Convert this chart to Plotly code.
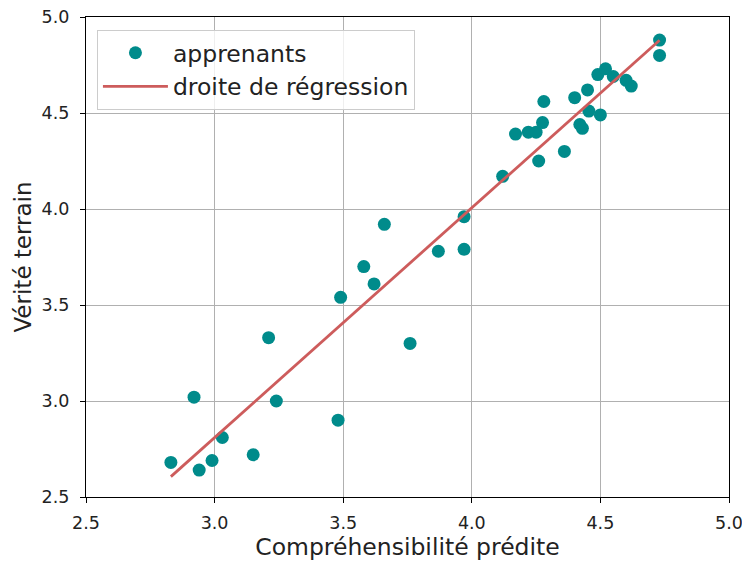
import numpy as np
import plotly.graph_objects as go

predite = [2.83, 2.92, 2.94, 2.99, 3.03, 3.15, 3.21, 3.24, 3.48, 3.49, 3.58, 3.62, 3.66,
           3.76, 3.87, 3.97, 3.97, 4.12, 4.17, 4.22, 4.25, 4.26, 4.275, 4.28, 4.36, 4.40,
           4.42, 4.43, 4.45, 4.455, 4.49, 4.50, 4.52, 4.55, 4.60, 4.62, 4.73, 4.73]
verite = [2.68, 3.02, 2.64, 2.69, 2.81, 2.72, 3.33, 3.00, 2.90, 3.54, 3.70, 3.61, 3.92,
          3.30, 3.78, 3.79, 3.96, 4.17, 4.39, 4.40, 4.40, 4.25, 4.45, 4.56, 4.30, 4.58,
          4.44, 4.42, 4.62, 4.51, 4.70, 4.49, 4.73, 4.69, 4.67, 4.64, 4.88, 4.80]

slope, intercept = np.polyfit(predite, verite, 1)
xl = np.array([min(predite), max(predite)])
yl = slope * xl + intercept

fig = go.Figure()
fig.add_trace(go.Scatter(x=predite, y=verite, mode="markers", name="apprenants",
                         marker=dict(color="#008b8b", size=13, line=dict(width=0))))
fig.add_trace(go.Scatter(x=xl, y=yl, mode="lines", name="droite de régression",
                         line=dict(color="#cd5c5c", width=2.8)))

axis_common = dict(showline=True, linecolor="black", linewidth=1.2, mirror=True,
                   ticks="outside", ticklen=5, tickcolor="black", tickwidth=1.2,
                   showgrid=True, gridcolor="#b0b0b0", gridwidth=1, zeroline=False,
                   tickfont=dict(size=17.5, color="#222222"), dtick=0.5, tickformat=".1f",
                   automargin=False, ticklabeloverflow="allow")

fig.update_layout(
    width=742, height=561,
    margin=dict(l=86, r=13, t=17, b=64),
    paper_bgcolor="white", plot_bgcolor="white",
    font=dict(family="DejaVu Sans", color="#222222"),
    xaxis=dict(range=[2.5, 5.0], ticklabelstandoff=5,
               title=dict(text="Compréhensibilité prédite", font=dict(size=23.5), standoff=6), **axis_common),
    yaxis=dict(range=[2.5, 5.0], ticklabelstandoff=7,
               title=dict(text="Vérité terrain", font=dict(size=23), standoff=3), **axis_common),
    legend=dict(x=0.017, y=0.973, xanchor="left", yanchor="top", bgcolor="rgba(255,255,255,0.8)",
                bordercolor="#cccccc", borderwidth=1, font=dict(size=23.5), itemwidth=65),
    showlegend=True,
)

fig.write_html("out.html", config={"displayModeBar": False},
               post_script="document.body.style.margin='0';document.body.style.overflow='hidden';")
